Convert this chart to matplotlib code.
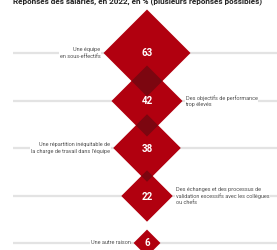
import numpy as np
import matplotlib.pyplot as plt
from matplotlib.patches import Polygon

plt.rcParams['font.family'] = ['Roboto', 'DejaVu Sans']

values = [63, 42, 38, 22, 6]
labels = [
    "Une équipe\nen sous-effectifs",
    "Des objectifs de performance\ntrop élevés",
    "Une répartition inéquitable de\nla charge de travail dans l'équipe",
    "Des échanges et des processus de\nvalidation excessifs avec les collègues\nou chefs",
    "Une autre raison",
]
sides = ['left', 'right', 'left', 'right', 'left']
title = "Réponses des salariés, en 2022, en % (plusieurs réponses possibles)"

RED = '#b1000f'
DARK = '#7c0610'
GREY_LINE = '#e3e3e3'

fig = plt.figure(figsize=(2.77, 2.5), dpi=100)
ax = fig.add_axes([0, 0, 1, 1])
ax.set_xlim(0, 277)
ax.set_ylim(250, 0)
ax.axis('off')

cx = 147
ys = [53, 101, 148, 196, 243]
k = 43.5 / np.sqrt(63)
halves = [k * np.sqrt(v) for v in values]

# guide lines
for y in ys:
    ax.plot([13, 277], [y, y], color=GREY_LINE, lw=1.6, zorder=1, solid_capstyle='butt')

def diamond(x, y, h, color, z):
    ax.add_patch(Polygon([(x, y - h), (x + h, y), (x, y + h), (x - h, y)],
                         closed=True, facecolor=color, edgecolor='none', zorder=z))

for v, y, h in zip(values, ys, halves):
    diamond(cx, y, h, RED, 2)
    ax.text(cx, y + 0.5, str(v), color='white', fontsize=7, fontweight='bold',
            ha='center', va='center', zorder=5)

# overlaps between neighbouring diamonds
for i in range(len(values) - 1):
    bottom = ys[i] + halves[i]
    top = ys[i + 1] - halves[i + 1]
    if bottom > top:
        diamond(cx, (bottom + top) / 2, (bottom - top) / 2, DARK, 3)

for lab, side, y, h in zip(labels, sides, ys, halves):
    if side == 'left':
        x, ha = cx - h - 3, 'right'
    else:
        x, ha = cx + h + 3, 'left'
    ax.text(x, y, lab, fontsize=4, color='#505050', ha=ha, va='center',
            linespacing=1.35, zorder=4,
            bbox=dict(facecolor='white', edgecolor='none', pad=0.6))

ax.text(13, 3, title, fontsize=5.9, fontweight='bold', color='#222222',
        ha='left', va='baseline')

fig.savefig('out.png', dpi=100)
